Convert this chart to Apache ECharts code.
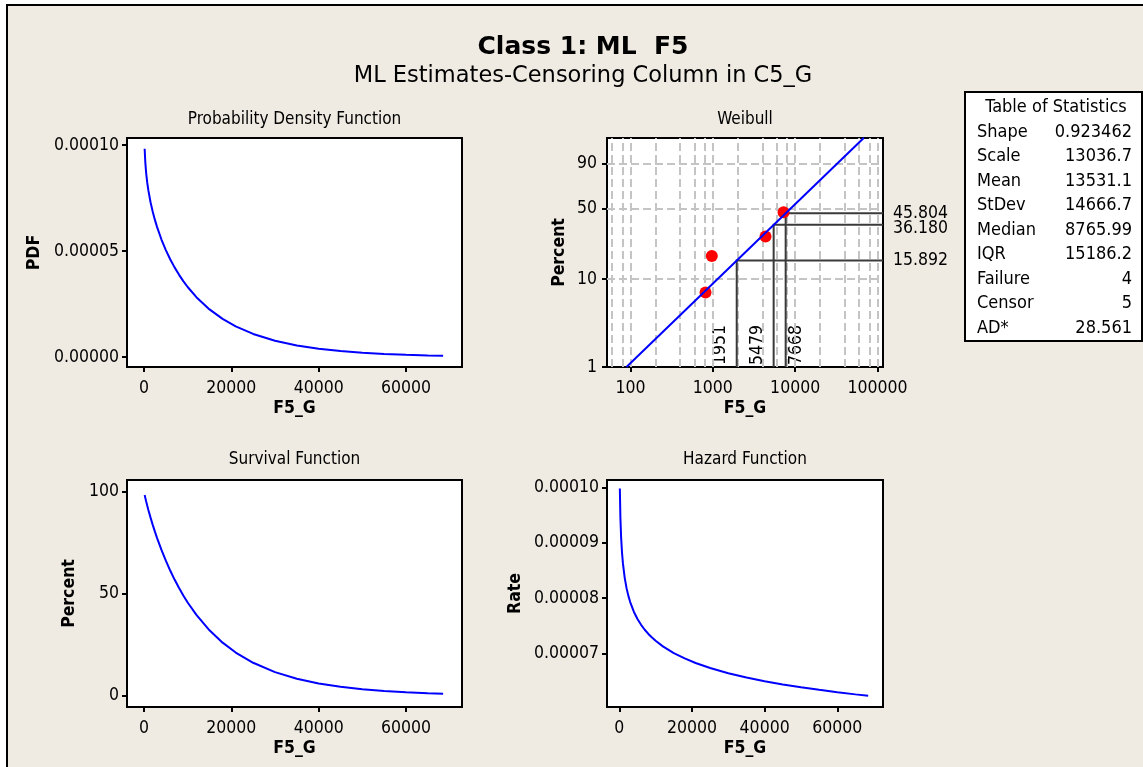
<!DOCTYPE html>
<html><head><meta charset="utf-8">
<script src="https://cdn.jsdelivr.net/npm/echarts@6/dist/echarts.min.js"></script>
<style>
html,body{margin:0;padding:0;background:#fff;overflow:hidden}
#frame{position:absolute;left:6px;top:4px;width:1200px;height:800px;background:#efebe2;border-left:2px solid #000;border-top:2px solid #000}
#c{position:absolute;left:0;top:0;width:1143px;height:767px}
</style>
</head><body><div id="frame"></div><div id="c"></div>
<script>
// ---- data ----
const xValues = [150,300,500,750,1000,1500,2000,2500,3000,4000,5000,6000,7000,8000,9000,10000,12000,15000,18000,21000,25000,30000,35000,40000,45000,50000,55000,60000,65000,68500];
const pdfValues = [9.824e-5,9.179e-5,8.663e-5,8.211e-5,7.858e-5,7.300e-5,6.851e-5,6.467e-5,6.127e-5,5.541e-5,5.044e-5,4.611e-5,4.228e-5,3.887e-5,3.580e-5,3.303e-5,2.822e-5,2.244e-5,1.796e-5,1.444e-5,1.087e-5,7.67e-6,5.45e-6,3.89e-6,2.79e-6,2.01e-6,1.45e-6,1.05e-6,7.6e-7,6.1e-7];
const survivalValues = [98.39,96.97,95.19,93.08,91.08,87.29,83.76,80.43,77.28,71.46,66.17,61.35,56.93,52.88,49.14,45.71,39.60,32.04,26.00,21.16,16.14,11.55,8.31,5.99,4.34,3.15,2.29,1.67,1.22,0.98];
const hazardValues = [9.985e-5,9.466e-5,9.101e-5,8.821e-5,8.628e-5,8.363e-5,8.180e-5,8.040e-5,7.928e-5,7.754e-5,7.622e-5,7.516e-5,7.427e-5,7.351e-5,7.285e-5,7.226e-5,7.125e-5,7.004e-5,6.907e-5,6.825e-5,6.734e-5,6.640e-5,6.562e-5,6.495e-5,6.436e-5,6.384e-5,6.338e-5,6.295e-5,6.256e-5,6.231e-5];
const failureX = [815, 972, 4365, 7230];
const failurePct = [7.11, 17.74, 28.1, 46.6];
const fitX = [89.3, 68500];
const fitPct = [1.0, 99.0];
const percentileX = [1951, 5479, 7668];
const percentilePct = [15.892, 36.180, 45.804];
const percentileXLabels = ['1951', '5479', '7668'];
const percentilePctLabels = ['15.892', '36.180', '45.804'];
const linearXTicks = [0, 20000, 40000, 60000];
const pdfTicks = [0, 0.00005, 0.0001];
const survivalTicks = [0, 50, 100];
const hazardTicks = [0.00007, 0.00008, 0.00009, 0.0001];
const weibullXTicks = [100, 1000, 10000, 100000];
const weibullYTicks = [1, 10, 50, 90];
const weibullXGrid = [60,80,100,200,400,600,800,1000,2000,4000,6000,8000,10000,20000,40000,60000,80000,100000];
const weibullYGrid = [10, 50, 90];
const statLabels = ['Shape','Scale','Mean','StDev','Median','IQR','Failure','Censor','AD*'];
const statValues = ['0.923462','13036.7','13531.1','14666.7','8765.99','15186.2','4','5','28.561'];
const mainTitle = 'Class 1: ML  F5';
const subTitle = 'ML Estimates-Censoring Column in C5_G';
const panelTitles = ['Probability Density Function', 'Weibull', 'Survival Function', 'Hazard Function'];
const tableTitle = 'Table of Statistics';

// ---- helpers ----
const FONT = '"DejaVu Sans Condensed","DejaVu Sans",sans-serif';
const wt = p => Math.log(-Math.log(1 - p / 100));
const lg = v => Math.log10(v);

const grids = [
  {left: 127, top: 138, width: 335, height: 229},
  {left: 607, top: 138, width: 276, height: 229},
  {left: 127, top: 480, width: 335, height: 227},
  {left: 607, top: 480, width: 276, height: 227}
];
const wxMin = 1.7146, wxMax = 5.0669;
const wyMin = wt(1), wyMax = 1.5211;

function axis(gridIndex, min, max, ticks, fmt, name, nameGap, margin) {
  return {
    type: 'value', gridIndex, min, max,
    name, nameLocation: 'middle', nameGap,
    nameTextStyle: {fontFamily: FONT, fontWeight: 'bold', fontSize: 17.5, color: '#000'},
    axisLine: {show: true, onZero: false, lineStyle: {color: '#000', width: 2}},
    axisTick: {show: true, inside: false, length: 5, customValues: ticks, lineStyle: {color: '#000', width: 2}},
    axisLabel: {show: true, customValues: ticks, formatter: fmt, margin, fontFamily: FONT, fontSize: 17.5, color: '#000'},
    splitLine: {show: false}, minorTick: {show: false}, minorSplitLine: {show: false}
  };
}
const fmtInt = v => String(Math.round(v));
const fmt5 = v => v.toFixed(5);
const fmtLog = v => String(Math.round(Math.pow(10, v)));
const fmtW = v => String(Math.round(100 * (1 - Math.exp(-Math.exp(v)))));

const xAxes = [
  axis(0, -3893, 72824, linearXTicks, fmtInt, 'F5_G', 32, 12),
  axis(1, wxMin, wxMax, weibullXTicks.map(lg), fmtLog, 'F5_G', 32, 12),
  axis(2, -3893, 72824, linearXTicks, fmtInt, 'F5_G', 32, 12),
  axis(3, -3385, 72578, linearXTicks, fmtInt, 'F5_G', 32, 12)
];
const yAxes = [
  axis(0, -4.717e-6, 1.0330e-4, pdfTicks, fmt5, 'PDF', 84, 8),
  axis(1, wyMin, wyMax, weibullYTicks.map(wt), fmtW, 'Percent', 39, 10),
  axis(2, -5.54, 105.74, survivalTicks, fmtInt, 'Percent', 49, 8),
  axis(3, 6.0272e-5, 1.01395e-4, hazardTicks, fmt5, 'Rate', 83, 8)
];

const gridSegs = weibullXGrid.map(v => ({coords: [[lg(v), wyMin], [lg(v), wyMax]]}))
  .concat(weibullYGrid.map(p => ({coords: [[wxMin, wt(p)], [wxMax, wt(p)]]})));
const refSegs = percentileX.map((x, i) => ({coords: [[lg(x), wyMin], [lg(x), wt(percentilePct[i])], [wxMax, wt(percentilePct[i])]]}));

const curve = (idx, vals) => ({
  type: 'line', xAxisIndex: idx, yAxisIndex: idx, symbol: 'none', silent: true,
  lineStyle: {color: '#0000ff', width: 2}, animation: false,
  data: xValues.map((x, i) => [x, vals[i]])
});

const chart = echarts.init(document.getElementById('c'), null, {renderer: 'canvas'});
chart.setOption({
  animation: false,
  backgroundColor: 'transparent',
  textStyle: {fontFamily: FONT},
  grid: grids.map(g => Object.assign({show: true, backgroundColor: '#fff', borderColor: '#000', borderWidth: 2, containLabel: false}, g)),
  xAxis: xAxes,
  yAxis: yAxes,
  series: [
    curve(0, pdfValues),
    {type: 'lines', coordinateSystem: 'cartesian2d', xAxisIndex: 1, yAxisIndex: 1, silent: true, z: 1,
     lineStyle: {color: '#c4c4c4', width: 2, type: [8, 4], opacity: 1}, data: gridSegs},
    {type: 'lines', coordinateSystem: 'cartesian2d', xAxisIndex: 1, yAxisIndex: 1, silent: true, polyline: true,
     lineStyle: {color: '#3a3a3a', width: 2, opacity: 1}, data: refSegs},
    {type: 'line', xAxisIndex: 1, yAxisIndex: 1, symbol: 'none', silent: true,
     lineStyle: {color: '#0000ff', width: 2}, data: fitX.map((x, i) => [lg(x), wt(fitPct[i])])},
    {type: 'scatter', xAxisIndex: 1, yAxisIndex: 1, symbol: 'circle', symbolSize: 12, silent: true,
     itemStyle: {color: '#ff0000', opacity: 1}, data: failureX.map((x, i) => [lg(x), wt(failurePct[i])])},
    curve(2, survivalValues),
    curve(3, hazardValues)
  ]
});

// ---- text overlays ----
const g = [];
const txt = (x, y, text, size, opts) => Object.assign({
  type: 'text', x, y, silent: true,
  style: Object.assign({text, fontSize: size, fontFamily: FONT, fill: '#000', textAlign: 'center', textVerticalAlign: 'middle'}, (opts && opts.style) || {})
}, opts && opts.rotation !== undefined ? {rotation: opts.rotation} : {});

g.push(txt(583, 47, mainTitle, 25, {style: {fontWeight: 'bold', fontFamily: '"DejaVu Sans",sans-serif'}}));
g.push(txt(583, 76.5, subTitle, 22.5, {style: {fontFamily: '"DejaVu Sans",sans-serif'}}));
const titleY = [120, 120, 460, 460];
panelTitles.forEach((t, i) => g.push(txt(grids[i].left + grids[i].width / 2, titleY[i], t, 17)));

// table of statistics
g.push({type: 'rect', silent: true, shape: {x: 965, y: 92, width: 177, height: 249}, style: {fill: '#fff', stroke: '#000', lineWidth: 2}});
g.push(txt(1056, 107.5, tableTitle, 18));
statLabels.forEach((l, i) => {
  const y = 132.3 + i * 24.5;
  g.push(txt(977, y, l, 18, {style: {textAlign: 'left'}}));
  g.push(txt(1132, y, statValues[i], 18, {style: {textAlign: 'right'}}));
});

// percentile labels (positions from the chart's own scales)
const wRight = grids[1].left + grids[1].width;
const rightYs = percentilePct.map(p => chart.convertToPixel({gridIndex: 1}, [wxMax, wt(p)])[1]);
const order = rightYs.map((y, i) => i).sort((a, b) => rightYs[a] - rightYs[b]);
let lastY = -1e9;
order.forEach(i => {
  let y = rightYs[i];
  if (y - lastY < 15.5) y = lastY + 15.5;
  lastY = y;
  g.push(txt(wRight + 10, y, percentilePctLabels[i], 17.5, {style: {textAlign: 'left'}}));
});
const bottomY = chart.convertToPixel({gridIndex: 1}, [wxMin, wyMin])[1];
let lastX = -1e9;
percentileX.forEach((x, i) => {
  const px = chart.convertToPixel({gridIndex: 1}, [lg(x), wyMin])[0];
  let cx = px - 16;
  if (cx - lastX < 18) cx = px + 11;
  lastX = cx;
  g.push(txt(cx, bottomY - 2, percentileXLabels[i], 17.5, {rotation: Math.PI / 2, style: {textAlign: 'left'}}));
});

chart.setOption({graphic: g});
</script>
</body></html>
